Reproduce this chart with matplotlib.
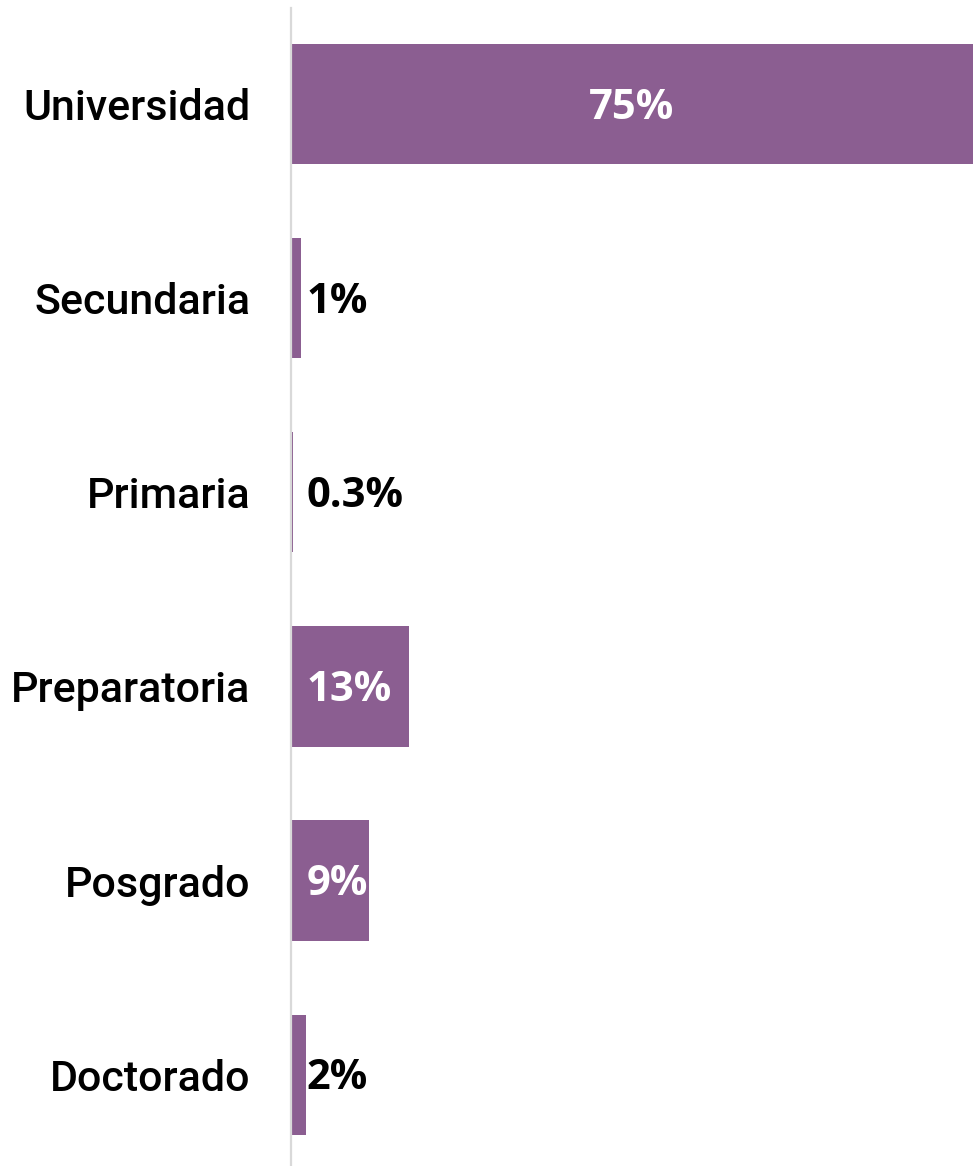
import matplotlib.pyplot as plt

categories = ['Universidad', 'Secundaria', 'Primaria', 'Preparatoria', 'Posgrado', 'Doctorado']
values = [75, 1.1, 0.2, 13, 8.6, 1.65]
labels = ['75%', '1%', '0.3%', '13%', '9%', '2%']

bar_color = '#8b5e91'

fig = plt.figure(figsize=(9.73, 11.66), dpi=100)
ax = fig.add_axes([291 / 973, 0, 1 - 291 / 973, 1 - 8 / 1166])

pos = list(range(len(categories)))
ax.barh(pos, values, height=0.62, color=bar_color)
ax.set_xlim(0, 75)
ax.set_ylim(5.47, -0.494)

ax.set_yticks(pos)
ax.set_yticklabels(categories, family=['Roboto', 'DejaVu Sans'], fontsize=31,
                   fontweight='medium', color='black')
ax.tick_params(axis='y', length=0, pad=29)
ax.set_xticks([])

for s in ['top', 'right', 'bottom']:
    ax.spines[s].set_visible(False)
ax.spines['left'].set_color('#d9d9d9')
ax.spines['left'].set_linewidth(1.6)

# value labels: centred inside the big bar, otherwise near the axis
for p, v, lab in zip(pos, values, labels):
    if v > 50:
        ax.annotate(lab, (v / 2, p), xytext=(0, -3), textcoords='offset points',
                    ha='center', va='center', color='white',
                    fontsize=30, fontweight='bold', family='Open Sans')
    else:
        col = 'white' if v > 5 else 'black'
        ax.annotate(lab, (0, p), xytext=(11, -3), textcoords='offset points',
                    ha='left', va='center', color=col,
                    fontsize=30, fontweight='bold', family='Open Sans')

fig.savefig('out.png', dpi=100)
